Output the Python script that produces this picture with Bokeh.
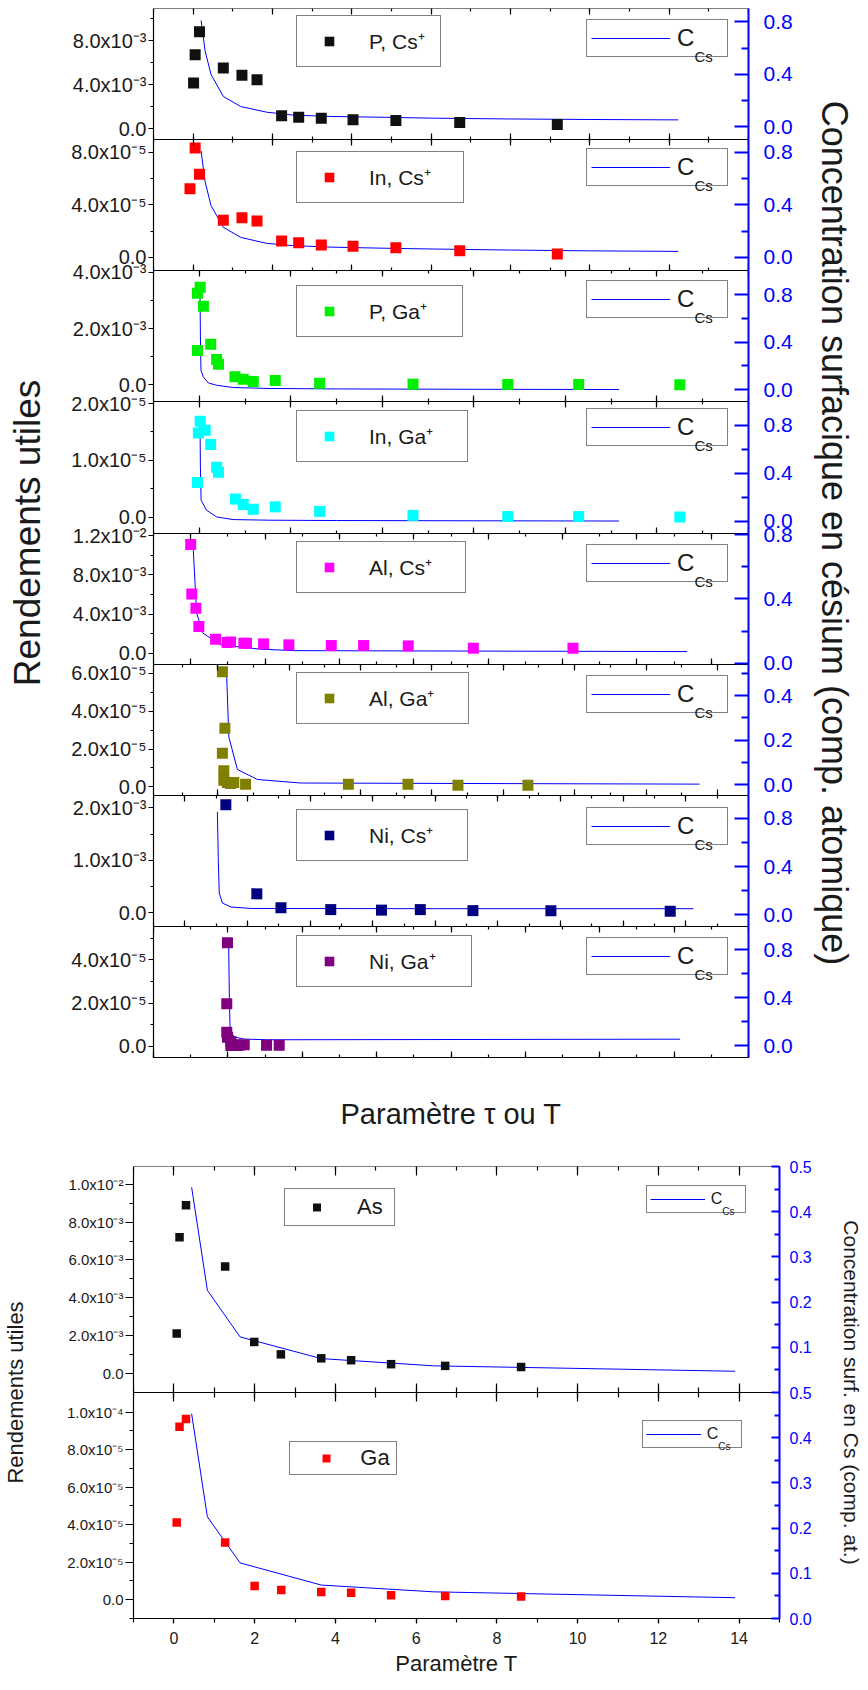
from bokeh.plotting import figure
from bokeh.models import (Range1d, LinearAxis, FixedTicker, SingleIntervalTicker,
                          Legend, LegendItem, Label)
from bokeh.core.properties import value
from bokeh.embed import file_html
from bokeh.resources import INLINE

FONT = "Liberation Sans"
BLUE = "#0000FF"
INK = "#1a1a1a"

# ---------------------------------------------------------------- data (top)
names = ["P, Cs⁺", "In, Cs⁺", "P, Ga⁺", "In, Ga⁺", "Al, Cs⁺", "Al, Ga⁺", "Ni, Cs⁺", "Ni, Ga⁺"]
colors = ["#101010", "#FF0000", "#00EE00", "#00FFFF", "#FF00FF", "#808000", "#000080", "#800080"]

p_cs_x = [0.01, 0.05, 0.16, 0.76, 1.23, 1.61, 2.23, 2.66, 3.23, 4.03, 5.11, 6.72, 9.18]
p_cs_y = [4.16e-3, 6.72e-3, 8.8e-3, 5.52e-3, 4.85e-3, 4.46e-3, 1.2e-3, 1.05e-3, 0.96e-3, 0.84e-3, 0.75e-3, 0.57e-3, 0.39e-3]
p_cs_cx = [0.2, 0.3, 0.45, 0.76, 1.2, 1.85, 2.5, 3.5, 5.0, 6.05, 8.0, 10.0, 12.23]
p_cs_cc = [0.812, 0.58, 0.398, 0.23, 0.153, 0.11, 0.088, 0.077, 0.07, 0.064, 0.058, 0.054, 0.051]

in_cs_x = [-0.08, 0.05, 0.16, 0.76, 1.23, 1.61, 2.23, 2.66, 3.23, 4.03, 5.11, 6.72, 9.18]
in_cs_y = [5.21e-5, 8.3e-5, 6.32e-5, 2.82e-5, 3.02e-5, 2.77e-5, 1.25e-5, 1.12e-5, 0.94e-5, 0.84e-5, 0.74e-5, 0.51e-5, 0.26e-5]
in_cs_cx = [0.2, 0.3, 0.45, 0.76, 1.2, 1.85, 2.5, 3.5, 5.0, 6.05, 8.0, 10.0, 12.23]
in_cs_cc = [0.808, 0.575, 0.394, 0.229, 0.152, 0.107, 0.09, 0.078, 0.069, 0.064, 0.056, 0.05, 0.046]

p_ga_x = [-0.04, -0.04, 0.02, 0.09, 0.25, 0.38, 0.42, 0.78, 0.96, 1.18, 1.66, 2.63, 4.67, 6.74, 8.29, 10.5]
p_ga_y = [1.23e-3, 3.26e-3, 3.47e-3, 2.8e-3, 1.45e-3, 0.91e-3, 0.74e-3, 0.29e-3, 0.2e-3, 0.12e-3, 0.16e-3, 0.06e-3, 0.03e-3, 0.02e-3, 0.02e-3, 0.01e-3]
p_ga_cx = [0.015, 0.025, 0.037, 0.088, 0.2, 0.38, 0.74, 1.5, 3.0, 6.0, 9.17]
p_ga_cc = [0.855, 0.45, 0.162, 0.106, 0.055, 0.036, 0.017, 0.009, 0.005, 0.002, 0.0]

in_ga_x = [-0.04, -0.02, 0.02, 0.13, 0.25, 0.38, 0.42, 0.79, 0.96, 1.18, 1.66, 2.63, 4.67, 6.74, 8.29, 10.5]
in_ga_y = [0.61e-5, 1.48e-5, 1.69e-5, 1.53e-5, 1.28e-5, 0.88e-5, 0.79e-5, 0.32e-5, 0.22e-5, 0.14e-5, 0.18e-5, 0.1e-5, 0.03e-5, 0.01e-5, 0.01e-5, 0.0]
in_ga_cx = [0.015, 0.025, 0.04, 0.16, 0.38, 0.74, 1.5, 3.0, 6.0, 9.17]
in_ga_cc = [0.859, 0.45, 0.174, 0.09, 0.034, 0.012, 0.007, 0.004, 0.002, 0.0]

al_cs_x = [0.0, 0.03, 0.14, 0.22, 0.67, 0.98, 1.07, 1.43, 1.5, 1.96, 2.64, 3.78, 4.65, 5.85, 7.6, 10.28]
al_cs_y = [11.12e-3, 6.05e-3, 4.59e-3, 2.72e-3, 1.43e-3, 1.08e-3, 1.15e-3, 1.02e-3, 1.02e-3, 0.95e-3, 0.85e-3, 0.78e-3, 0.78e-3, 0.74e-3, 0.51e-3, 0.51e-3]
al_cs_cx = [0.07, 0.16, 0.33, 0.8, 1.88, 2.77, 13.35]
al_cs_cc = [0.705, 0.311, 0.187, 0.114, 0.087, 0.078, 0.072]

al_ga_x = [0.13, 0.2, 0.13, 0.17, 0.17, 0.27, 0.36, 0.45, 0.78, 3.66, 5.33, 6.73, 8.69]
al_ga_y = [6.08e-5, 3.09e-5, 1.77e-5, 0.85e-5, 0.35e-5, 0.23e-5, 0.18e-5, 0.23e-5, 0.14e-5, 0.14e-5, 0.14e-5, 0.09e-5, 0.09e-5]
al_ga_cx = [0.25, 0.31, 0.55, 1.11, 2.32, 13.5]
al_ga_cc = [0.493, 0.215, 0.068, 0.023, 0.007, 0.002]

ni_cs_x = [1.31, 2.3, 3.07, 4.66, 6.28, 7.52, 9.2, 11.69, 15.5]
ni_cs_y = [2.06e-3, 0.36e-3, 0.095e-3, 0.06e-3, 0.05e-3, 0.06e-3, 0.04e-3, 0.04e-3, 0.03e-3]
ni_cs_cx = [1.04, 1.07, 1.1, 1.2, 1.47, 2.11, 7.97, 16.24]
ni_cs_cc = [0.855, 0.45, 0.18, 0.097, 0.064, 0.052, 0.05, 0.05]

ni_ga_x = [-0.01, -0.03, -0.03, -0.01, 0.08, 0.17, 0.3, 0.44, 0.08, 0.22, 1.04, 1.38]
ni_ga_y = [4.78e-5, 1.97e-5, 0.65e-5, 0.43e-5, 0.23e-5, 0.08e-5, 0.05e-5, 0.08e-5, 0.04e-5, 0.04e-5, 0.05e-5, 0.05e-5]
ni_ga_cx = [0.02, 0.04, 0.06, 0.17, 0.44, 1.07, 12.16]
ni_ga_cc = [0.861, 0.4, 0.133, 0.073, 0.056, 0.05, 0.055]

# axis ranges / ticks of the top stack
x_ranges = [(-1.0, 14.0), (-1.0, 14.0), (-1.0, 12.0), (-1.0, 12.0), (-1.0, 15.0), (-1.8, 14.87), (-1.0, 18.0), (-2.0, 14.0)]
y_ranges = [(-0.97e-3, 10.9e-3), (-1.01e-5, 8.94e-5), (-0.6e-3, 4.06e-3), (-0.28e-5, 2.03e-5),
            (-1.12e-3, 12.29e-3), (-0.44e-5, 6.48e-5), (-0.26e-3, 2.24e-3), (-0.51e-5, 5.54e-5)]
r_ranges = [(-0.1, 0.903), (-0.101, 0.894), (-0.104, 1.0), (-0.1, 0.995),
            (-0.006, 0.81), (-0.048, 0.542), (-0.097, 0.993), (-0.0975, 0.994)]
y_ticks = [[0, 4e-3, 8e-3], [0, 4e-5, 8e-5], [0, 2e-3, 4e-3], [0, 1e-5, 2e-5],
           [0, 4e-3, 8e-3, 12e-3], [0, 2e-5, 4e-5, 6e-5], [0, 1e-3, 2e-3], [0, 2e-5, 4e-5]]
y_tick_labels = [["0.0", "4.0x10⁻³", "8.0x10⁻³"], ["0.0", "4.0x10⁻⁵", "8.0x10⁻⁵"],
                 ["0.0", "2.0x10⁻³", "4.0x10⁻³"], ["0.0", "1.0x10⁻⁵", "2.0x10⁻⁵"],
                 ["0.0", "4.0x10⁻³", "8.0x10⁻³", "1.2x10⁻²"], ["0.0", "2.0x10⁻⁵", "4.0x10⁻⁵", "6.0x10⁻⁵"],
                 ["0.0", "1.0x10⁻³", "2.0x10⁻³"], ["0.0", "2.0x10⁻⁵", "4.0x10⁻⁵"]]
y_minor = [[2e-3, 6e-3, 10e-3], [2e-5, 6e-5], [1e-3, 3e-3], [0.5e-5, 1.5e-5],
           [2e-3, 6e-3, 10e-3], [1e-5, 3e-5, 5e-5], [0.5e-3, 1.5e-3], [1e-5, 3e-5, 5e-5]]
r_ticks = [[0.0, 0.4, 0.8]] * 5 + [[0.0, 0.2, 0.4]] + [[0.0, 0.4, 0.8]] * 2
r_minor = [[0.2, 0.6]] * 5 + [[0.1, 0.3, 0.5]] + [[0.2, 0.6]] * 2

top_x = [p_cs_x, in_cs_x, p_ga_x, in_ga_x, al_cs_x, al_ga_x, ni_cs_x, ni_ga_x]
top_y = [p_cs_y, in_cs_y, p_ga_y, in_ga_y, al_cs_y, al_ga_y, ni_cs_y, ni_ga_y]
top_cx = [p_cs_cx, in_cs_cx, p_ga_cx, in_ga_cx, al_cs_cx, al_ga_cx, ni_cs_cx, ni_ga_cx]
top_cc = [p_cs_cc, in_cs_cc, p_ga_cc, in_ga_cc, al_cs_cc, al_ga_cc, ni_cs_cc, ni_ga_cc]

# ---------------------------------------------------------------- data (bottom)
as_x = [0.07, 0.14, 0.3, 1.27, 1.99, 2.65, 3.65, 4.39, 5.38, 6.72, 8.6]
as_y = [2.1e-3, 7.2e-3, 8.9e-3, 5.66e-3, 1.66e-3, 1.0e-3, 0.79e-3, 0.69e-3, 0.48e-3, 0.39e-3, 0.33e-3]
as_cx = [0.44, 0.83, 1.64, 3.65, 6.43, 13.9]
as_cc = [0.454, 0.226, 0.123, 0.075, 0.059, 0.047]

ga_x = [0.07, 0.14, 0.3, 1.27, 2.0, 2.66, 3.65, 4.39, 5.38, 6.72, 8.6]
ga_y = [4.11e-5, 9.22e-5, 9.63e-5, 3.04e-5, 0.73e-5, 0.51e-5, 0.41e-5, 0.37e-5, 0.23e-5, 0.19e-5, 0.16e-5]
ga_cx = [0.44, 0.83, 1.64, 3.65, 6.43, 13.9]
ga_cc = [0.453, 0.225, 0.123, 0.074, 0.059, 0.046]

bot_names = ["As", "Ga"]
bot_colors = ["#101010", "#FF0000"]
bot_y_ranges = [(-1.02e-3, 10.95e-3), (-1.01e-5, 11.05e-5)]
bot_r_range = (0.0, 0.5)
bot_y_ticks = [[0, 2e-3, 4e-3, 6e-3, 8e-3, 10e-3], [0, 2e-5, 4e-5, 6e-5, 8e-5, 10e-5]]
bot_y_labels = [["0.0", "2.0x10⁻³", "4.0x10⁻³", "6.0x10⁻³", "8.0x10⁻³", "1.0x10⁻²"],
                ["0.0", "2.0x10⁻⁵", "4.0x10⁻⁵", "6.0x10⁻⁵", "8.0x10⁻⁵", "1.0x10⁻⁴"]]
bot_y_minor = [[1e-3, 3e-3, 5e-3, 7e-3, 9e-3], [-1e-5, 1e-5, 3e-5, 5e-5, 7e-5, 9e-5]]
bot_r_ticks = [0.0, 0.1, 0.2, 0.3, 0.4, 0.5]
bot_r_minor = [0.05, 0.15, 0.25, 0.35, 0.45]

# ---------------------------------------------------------------- helpers
def band_range(lo, hi, base, n):
    span = hi - lo
    start = lo - base * span
    return Range1d(start, start + n * span)


def band_pos(v, lo, hi, base):
    return round(base + (v - lo) / (hi - lo), 9)


def hidden_x_axis(fig, rname, side, fixed, tin, tout, mtin, mtout, lw=1.2):
    kw = {} if rname is None else {"x_range_name": rname}
    ax = LinearAxis(ticker=SingleIntervalTicker(interval=2, num_minor_ticks=2), **kw)
    if fixed is not None:
        ax.fixed_location = fixed
    ax.major_tick_in, ax.major_tick_out = tin, tout
    ax.minor_tick_in, ax.minor_tick_out = mtin, mtout
    ax.major_label_text_font_size = "0px"
    ax.major_label_standoff = 0
    ax.major_label_text_color = None
    for a in ("axis_line", "major_tick_line", "minor_tick_line"):
        setattr(ax, a + "_color", "black")
        setattr(ax, a + "_width", lw)
    fig.add_layout(ax, side)
    return ax


def make_legend(fig, renderer, label, x, y, fsize, pad, gw, gh, standoff, lw, bg_alpha=1.0):
    leg = Legend(items=[LegendItem(label=value(label), renderers=[renderer])],
                 location=(x, y), orientation="vertical", margin=0, spacing=0,
                 padding=pad, glyph_width=gw, glyph_height=gh, label_standoff=standoff,
                 label_width=lw, label_height=20,
                 label_text_font=FONT, label_text_font_size=f"{fsize}px", label_text_color=INK,
                 border_line_color="black", border_line_width=1.5,
                 background_fill_color="white", background_fill_alpha=bg_alpha)
    fig.add_layout(leg, "center")


def style_left(ax, fsize, tsize, standoff, tout, mout):
    ax.major_label_text_font = FONT
    ax.major_label_text_font_size = f"{fsize}px"
    ax.major_label_text_color = INK
    ax.major_label_standoff = 2
    ax.major_tick_out, ax.major_tick_in = tout, 0
    ax.minor_tick_out, ax.minor_tick_in = mout, 0
    ax.axis_line_color = "black"
    ax.axis_line_width = 1.2
    ax.major_tick_line_width = 1.2
    ax.minor_tick_line_width = 1.2
    ax.axis_label_text_font = FONT
    ax.axis_label_text_font_size = f"{tsize}px"
    ax.axis_label_text_font_style = "normal"
    ax.axis_label_text_color = INK
    ax.axis_label_standoff = standoff


def style_right(ax, fsize, tsize, standoff, lstand, tin, min_):
    ax.major_label_text_font = FONT
    ax.major_label_text_font_size = f"{fsize}px"
    ax.major_label_text_color = BLUE
    ax.major_label_standoff = lstand
    ax.major_tick_in, ax.major_tick_out = tin, 0
    ax.minor_tick_in, ax.minor_tick_out = min_, 0
    for a in ("axis_line", "major_tick_line", "minor_tick_line"):
        setattr(ax, a + "_color", BLUE)
        setattr(ax, a + "_width", 2)
    ax.axis_label_text_font = FONT
    ax.axis_label_text_font_size = f"{tsize}px"
    ax.axis_label_text_font_style = "normal"
    ax.axis_label_text_color = INK
    ax.axis_label_standoff = standoff


# ---------------------------------------------------------------- top stack
NT = 8
FH_T = 1049
BAND_T = FH_T / NT
top = figure(frame_width=595, frame_height=FH_T, x_range=Range1d(0, 1), y_range=Range1d(0, NT),
             x_axis_type=None, y_axis_type=None, toolbar_location=None, output_backend="svg",
             min_border_left=153, min_border_right=116, min_border_top=8, min_border_bottom=80)
top.outline_line_color = None
top.background_fill_color = "white"
top.border_fill_color = "white"

left_off = [13.4, 18, 20.7, 14.3, 14.6, 14.7, 20, 15]
left_w = [143, 166, 165, 170, 168, 171, 170, 174]
right_off = [14.4, 11.4, 12.7, 10, 14, 14.7, 15, 14]

lmaj, lmin, lover = [], [], {}
rmaj, rmin, rover = [], [], {}
for k in range(NT):
    base = NT - 1 - k
    xn, yn, rn = f"x{k}", f"y{k}", f"r{k}"
    top.extra_x_ranges[xn] = Range1d(*x_ranges[k])
    top.extra_y_ranges[yn] = band_range(*y_ranges[k], base, NT)
    top.extra_y_ranges[rn] = band_range(*r_ranges[k], base, NT)

    ln = top.line(top_cx[k], top_cc[k], x_range_name=xn, y_range_name=rn,
                  line_color=BLUE, line_width=1)
    sc = top.scatter(top_x[k], top_y[k], marker="square", size=11, x_range_name=xn,
                     y_range_name=yn, fill_color=colors[k], line_color=None)

    lo, hi = y_ranges[k]
    for v, lab in zip(y_ticks[k], y_tick_labels[k]):
        g = band_pos(v, lo, hi, base)
        lmaj.append(g)
        lover[g] = lab
    lmin += [band_pos(v, lo, hi, base) for v in y_minor[k]]
    rlo, rhi = r_ranges[k]
    for v in r_ticks[k]:
        g = band_pos(v, rlo, rhi, base)
        rmaj.append(g)
        rover[g] = f"{v:.1f}"
    rmin += [band_pos(v, rlo, rhi, base) for v in r_minor[k]]

    band_top = (NT - k) * BAND_T
    make_legend(top, sc, names[k], 143, band_top - left_off[k] - 46,
                21, 11, 42, 24, 19, left_w[k] - 83)
    vy = band_top - right_off[k] - 35
    make_legend(top, ln, "C", 433, vy, 24, 4, 79, 20, 7, 46, bg_alpha=0.0)
    top.add_layout(Label(x=541, y=vy + 1, x_units="screen", y_units="screen", text="Cs",
                         text_font=FONT, text_font_size="15px", text_color=INK,
                         text_baseline="middle"))

    # tick rows at panel edges (ticks pointing into each panel)
    hidden_x_axis(top, xn, "above", float(base + 1), 6, 0, 3, 0)
    if k < NT - 1:
        hidden_x_axis(top, xn, "below", float(base), 6, 0, 3, 0)

bx = hidden_x_axis(top, f"x{NT-1}", "below", None, 6, 0, 3, 0)
bx.axis_label = "Paramètre τ ou T"
bx.axis_label_text_font = FONT
bx.axis_label_text_font_size = "29px"
bx.axis_label_text_font_style = "normal"
bx.axis_label_text_color = INK
bx.axis_label_standoff = 40

la = LinearAxis(ticker=FixedTicker(ticks=lmaj, minor_ticks=lmin), axis_label="Rendements utiles")
la.major_label_overrides = lover
style_left(la, 20, 37, 20, 5, 3)
top.add_layout(la, "left")

ra = LinearAxis(ticker=FixedTicker(ticks=rmaj, minor_ticks=rmin),
                axis_label="Concentration surfacique en césium (comp. atomique)")
ra.major_label_overrides = rover
style_right(ra, 21, 36, 18, 15, 14, 7)
top.add_layout(ra, "right")

# ---------------------------------------------------------------- bottom stack
NB = 2
FH_B = 452
BAND_B = FH_B / NB
bot = figure(frame_width=646, frame_height=FH_B, x_range=Range1d(-1, 15), y_range=Range1d(0, NB),
             x_axis_type=None, y_axis_type=None, toolbar_location=None, output_backend="svg",
             min_border_left=133, min_border_right=86, min_border_top=29, min_border_bottom=64)
bot.outline_line_color = None
bot.background_fill_color = "white"
bot.border_fill_color = "white"

bot_x = [as_x, ga_x]
bot_y = [as_y, ga_y]
bot_cx = [as_cx, ga_cx]
bot_cc = [as_cc, ga_cc]
leg_pos = [(151, 24.7, 35, 5, 53, 14, 32), (156.3, 52.7, 30, 3, 66, 1, 33)]
cleg_pos = [(512.7, 23, 24), (508.7, 31, 25)]

bmaj, bmin, bover = [], [], {}
brmaj, brmin, brover = [], [], {}
for k in range(NB):
    base = NB - 1 - k
    yn, rn = f"y{k}", f"r{k}"
    bot.extra_y_ranges[yn] = band_range(*bot_y_ranges[k], base, NB)
    bot.extra_y_ranges[rn] = band_range(*bot_r_range, base, NB)
    ln = bot.line(bot_cx[k], bot_cc[k], y_range_name=rn, line_color=BLUE, line_width=1)
    sc = bot.scatter(bot_x[k], bot_y[k], marker="square", size=8.5, y_range_name=yn,
                     fill_color=bot_colors[k], line_color=None)
    lo, hi = bot_y_ranges[k]
    for v, lab in zip(bot_y_ticks[k], bot_y_labels[k]):
        g = band_pos(v, lo, hi, base)
        bmaj.append(g)
        bover[g] = lab
    bmin += [band_pos(v, lo, hi, base) for v in bot_y_minor[k]]
    rlo, rhi = bot_r_range
    for v in bot_r_ticks:
        g = band_pos(v, rlo, rhi, base)
        if g not in brover:
            brmaj.append(g)
        brover[g] = f"{v:.1f}"
    brmin += [band_pos(v, rlo, rhi, base) for v in bot_r_minor]

    band_top = (NB - k) * BAND_B
    lx, loff, lh, lpad, lgw, lst, llw = leg_pos[k]
    make_legend(bot, sc, bot_names[k], lx, band_top - loff - lh, 22, lpad, lgw, 20, lst, llw)
    cx_, coff, ch = cleg_pos[k]
    vy = band_top - coff - ch
    make_legend(bot, ln, "C", cx_, vy, 16, 3, 55, 16, 6, 31, bg_alpha=0.0)
    bot.add_layout(Label(x=cx_ + 76, y=vy + 2, x_units="screen", y_units="screen", text="Cs",
                         text_font=FONT, text_font_size="10px", text_color=INK,
                         text_baseline="middle"))

hidden_x_axis(bot, None, "above", float(NB), 9, 0, 4, 0)
hidden_x_axis(bot, None, "below", 1.0, 9, 9, 5, 5)

bxa = LinearAxis(ticker=SingleIntervalTicker(interval=2, num_minor_ticks=2), axis_label="Paramètre T")
bxa.major_tick_out, bxa.major_tick_in = 5, 0
bxa.minor_tick_out, bxa.minor_tick_in = 4, 0
bxa.major_label_text_font = FONT
bxa.major_label_text_font_size = "16px"
bxa.major_label_text_color = INK
bxa.major_label_standoff = 8
bxa.axis_label_text_font = FONT
bxa.axis_label_text_font_size = "22px"
bxa.axis_label_text_font_style = "normal"
bxa.axis_label_text_color = INK
bxa.axis_label_standoff = 4
for a in ("axis_line", "major_tick_line", "minor_tick_line"):
    setattr(bxa, a + "_color", "black")
    setattr(bxa, a + "_width", 1.2)
bot.add_layout(bxa, "below")

bla = LinearAxis(ticker=FixedTicker(ticks=bmaj, minor_ticks=bmin), axis_label="Rendements utiles")
bla.major_label_overrides = bover
style_left(bla, 15, 22, 36, 8, 4)
bot.add_layout(bla, "left")

bra = LinearAxis(ticker=FixedTicker(ticks=brmaj, minor_ticks=brmin),
                 axis_label="Concentration surf. en Cs (comp. at.)")
bra.major_label_overrides = brover
style_right(bra, 16, 21, 25, 10, 8, 5)
bot.add_layout(bra, "right")

# two independent roots, stacked, so that their frames are not aligned to each other
open("out.html", "w").write(file_html([top, bot], INLINE, title="Rendements utiles"))
